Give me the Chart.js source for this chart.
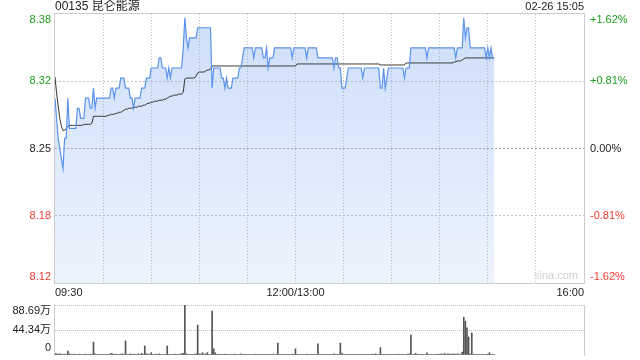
<!DOCTYPE html>
<html>
<head>
<meta charset="utf-8">
<script src="https://cdn.jsdelivr.net/npm/chart.js@4.4.1/dist/chart.umd.min.js"></script>
<style>
  html, body { margin: 0; padding: 0; background: #fff; }
  #wrap { position: relative; width: 640px; height: 360px; overflow: hidden; }
  canvas { position: absolute; left: 0; }
  #main { top: 0; }
  #vol { top: 300px; }
</style>
</head>
<body>
<div id="wrap">
  <canvas id="main" width="640" height="300"></canvas>
  <canvas id="vol" width="640" height="60"></canvas>
</div>
<script>
// 00135 intraday, one point per minute from 09:30 (lunch break folded out)
const TITLE = "00135 昆仑能源";
const STAMP = "02-26 15:05";
const PREV_CLOSE = 8.25;
const PCT_LEVELS = [-1.62, -0.81, 0, 0.81, 1.62];
const TIME_LABELS = ["09:30", "12:00/13:00", "16:00"];
const TIME_LABEL_MIN = [0, 150, 330];
const SESSION_MINUTES = 330;
const GRID_STEP = 30;

const price = [
  8.30, 8.28, 8.26, 8.25, 8.24, 8.23, 8.26, 8.26, 8.30, 8.27,
  8.27, 8.27, 8.27, 8.27, 8.29, 8.29, 8.28, 8.28, 8.28, 8.30,
  8.30, 8.30, 8.29, 8.29, 8.31, 8.29, 8.30, 8.30, 8.30, 8.30,
  8.30, 8.30, 8.30, 8.30, 8.30, 8.31, 8.31, 8.30, 8.31, 8.31,
  8.31, 8.32, 8.32, 8.32, 8.31, 8.31, 8.31, 8.30, 8.30, 8.29,
  8.30, 8.30, 8.30, 8.30, 8.31, 8.31, 8.31, 8.32, 8.32, 8.32,
  8.33, 8.33, 8.33, 8.33, 8.33, 8.34, 8.34, 8.33, 8.33, 8.33,
  8.32, 8.33, 8.32, 8.33, 8.33, 8.33, 8.33, 8.33, 8.33, 8.33,
  8.35, 8.38, 8.36, 8.35, 8.36, 8.36, 8.36, 8.36, 8.36, 8.37,
  8.37, 8.37, 8.37, 8.37, 8.37, 8.37, 8.37, 8.37, 8.31, 8.33,
  8.33, 8.33, 8.33, 8.33, 8.32, 8.32, 8.31, 8.32, 8.31, 8.31,
  8.31, 8.32, 8.32, 8.32, 8.32, 8.33, 8.33, 8.34, 8.35, 8.35,
  8.35, 8.35, 8.35, 8.35, 8.34, 8.35, 8.35, 8.35, 8.35, 8.35,
  8.34, 8.34, 8.35, 8.33, 8.34, 8.34, 8.34, 8.35, 8.35, 8.35,
  8.35, 8.35, 8.35, 8.35, 8.35, 8.35, 8.35, 8.35, 8.34, 8.35,
  8.35, 8.35, 8.35, 8.35, 8.35, 8.35, 8.35, 8.34, 8.35, 8.35,
  8.35, 8.35, 8.35, 8.35, 8.34, 8.34, 8.34, 8.34, 8.34, 8.34,
  8.34, 8.34, 8.34, 8.34, 8.33, 8.34, 8.34, 8.33, 8.33, 8.31,
  8.31, 8.31, 8.32, 8.33, 8.33, 8.33, 8.33, 8.33, 8.33, 8.33,
  8.33, 8.33, 8.32, 8.33, 8.33, 8.33, 8.33, 8.33, 8.33, 8.33,
  8.33, 8.33, 8.33, 8.31, 8.31, 8.33, 8.31, 8.32, 8.33, 8.33,
  8.33, 8.33, 8.33, 8.33, 8.33, 8.33, 8.33, 8.33, 8.32, 8.33,
  8.33, 8.33, 8.35, 8.35, 8.35, 8.35, 8.35, 8.35, 8.35, 8.35,
  8.35, 8.35, 8.34, 8.35, 8.35, 8.35, 8.35, 8.35, 8.35, 8.35,
  8.35, 8.35, 8.35, 8.35, 8.35, 8.35, 8.35, 8.35, 8.35, 8.35,
  8.34, 8.35, 8.35, 8.35, 8.35, 8.38, 8.36, 8.37, 8.37, 8.35,
  8.35, 8.35, 8.35, 8.35, 8.35, 8.35, 8.35, 8.35, 8.35, 8.34,
  8.35, 8.34, 8.35, 8.34, 8.34
];

// running average price (black line)
const avgPrice = [
  8.321, 8.305, 8.292, 8.280, 8.272, 8.268, 8.268, 8.270, 8.272, 8.273,
  8.273, 8.273, 8.273, 8.273, 8.273, 8.273, 8.273, 8.273, 8.274, 8.274,
  8.274, 8.274, 8.274, 8.275, 8.282, 8.282, 8.282, 8.282, 8.282, 8.282,
  8.282, 8.282, 8.282, 8.283, 8.283, 8.284, 8.284, 8.284, 8.285, 8.285,
  8.286, 8.286, 8.287, 8.288, 8.289, 8.289, 8.290, 8.290, 8.290, 8.291,
  8.291, 8.291, 8.292, 8.292, 8.292, 8.293, 8.293, 8.294, 8.295, 8.295,
  8.296, 8.296, 8.297, 8.297, 8.297, 8.298, 8.298, 8.298, 8.299, 8.299,
  8.300, 8.301, 8.302, 8.302, 8.303, 8.303, 8.303, 8.304, 8.304, 8.304,
  8.306, 8.319, 8.320, 8.320, 8.320, 8.320, 8.320, 8.320, 8.322, 8.325,
  8.326, 8.326, 8.326, 8.326, 8.327, 8.328, 8.328, 8.329, 8.332, 8.332,
  8.332, 8.332, 8.332, 8.332, 8.332, 8.332, 8.332, 8.332, 8.332, 8.332,
  8.332, 8.332, 8.332, 8.332, 8.332, 8.332, 8.332, 8.332, 8.332, 8.332,
  8.332, 8.332, 8.332, 8.332, 8.332, 8.332, 8.332, 8.332, 8.332, 8.332,
  8.332, 8.332, 8.332, 8.332, 8.332, 8.332, 8.332, 8.332, 8.332, 8.332,
  8.332, 8.332, 8.332, 8.332, 8.332, 8.332, 8.332, 8.332, 8.332, 8.332,
  8.332, 8.334, 8.334, 8.334, 8.334, 8.334, 8.334, 8.334, 8.334, 8.334,
  8.334, 8.334, 8.334, 8.334, 8.334, 8.334, 8.334, 8.334, 8.334, 8.334,
  8.334, 8.334, 8.334, 8.334, 8.334, 8.334, 8.334, 8.334, 8.334, 8.334,
  8.334, 8.334, 8.334, 8.334, 8.334, 8.334, 8.334, 8.334, 8.334, 8.334,
  8.334, 8.334, 8.334, 8.334, 8.334, 8.334, 8.334, 8.334, 8.334, 8.334,
  8.334, 8.334, 8.334, 8.333, 8.333, 8.333, 8.333, 8.333, 8.333, 8.333,
  8.333, 8.333, 8.333, 8.333, 8.333, 8.333, 8.333, 8.333, 8.333, 8.335,
  8.335, 8.335, 8.335, 8.335, 8.335, 8.335, 8.335, 8.335, 8.335, 8.335,
  8.335, 8.335, 8.335, 8.335, 8.335, 8.335, 8.335, 8.335, 8.335, 8.335,
  8.335, 8.335, 8.335, 8.335, 8.335, 8.335, 8.335, 8.335, 8.335, 8.336,
  8.336, 8.337, 8.337, 8.337, 8.338, 8.339, 8.340, 8.340, 8.340, 8.340,
  8.340, 8.340, 8.340, 8.340, 8.340, 8.340, 8.340, 8.340, 8.340, 8.340,
  8.340, 8.340, 8.340, 8.340, 8.340
];

// volume per minute, in 万 shares
const volume = [
  3, 2, 1.5, 2, 1.5, 1, 1.5, 1, 7, 2,
  1, 1, 1.5, 1, 1, 1.5, 1, 1, 1, 1.5,
  1, 1, 1.5, 1, 23, 2, 1, 1, 1, 1,
  1, 1, 1, 1, 1, 3, 2, 1, 1.5, 1,
  1, 1.5, 2, 1, 25, 1, 1, 2, 1, 1.5,
  1, 1, 2, 1, 3, 1, 16, 2, 1.5, 1,
  4, 1, 1, 1.5, 1, 2, 1, 1, 1, 1,
  16, 1, 1, 1, 1, 1.5, 1, 1, 1.5, 2,
  3, 88.69, 2, 1, 1, 1, 1, 1.5, 2, 53,
  2, 1.5, 4, 1, 2, 4, 1, 1, 78, 11,
  4, 1, 1.5, 1, 1, 1, 1.5, 1, 1, 1,
  1, 1, 1.5, 1, 1, 1, 2, 1, 1, 1,
  1, 1, 1, 1, 1, 1.5, 1, 1, 1, 1,
  1, 1, 1, 1, 1, 1, 1.5, 1, 1, 21,
  1, 1, 1, 1, 1, 1, 1, 1, 1.5, 1,
  11, 1, 1, 1, 1, 1, 1, 1.5, 1, 1,
  1, 1, 1, 1, 20, 1, 1, 1, 1, 1,
  1, 1, 1, 1, 2, 1, 1, 1, 21, 3,
  1, 1, 1, 1, 1, 1, 1, 1, 1, 1,
  1, 1, 1, 1, 1, 1, 1, 1, 1.5, 1,
  2, 1, 1, 13, 1, 1, 1, 1, 1, 1,
  1, 1, 1, 1, 1.5, 1, 1, 1, 1, 1,
  1.5, 2, 35.5, 1, 1, 3, 1, 1, 1, 1,
  1, 1, 4, 1, 1, 1, 1, 1, 1, 1.5,
  1, 2, 1, 3, 1, 2, 2, 1, 2, 1.5,
  1.5, 2, 1.5, 1, 5, 67, 60, 48, 32, 1.5,
  39, 1, 1, 1, 1, 1, 1, 1, 1, 1,
  1.5, 4, 1, 1, 1
];
const VOL_MAX = 88.69;
const VOL_LABELS = ["0", "44.34万", "88.69万"];

const COLORS = {
  line: "#5b93ec",
  avg: "#333333",
  fillTop: "rgba(110, 160, 238, 0.34)",
  fillBottom: "rgba(110, 160, 238, 0.12)",
  frame: "#cccccc",
  grid: "#c4c4c4",
  vgrid: "#bdbdbd",
  zero: "#a8a8a8",
  up: "#1c9e1c",
  down: "#f03a32",
  text: "#222222",
  mark: "#cfcfcf",
  vol: "#555555",
};
const FONT = "11px 'Liberation Sans', 'Noto Sans CJK SC', sans-serif";
const TITLE_FONT = "12px 'Liberation Sans', 'Noto Sans CJK SC', sans-serif";

const lo = PREV_CLOSE * (1 + PCT_LEVELS[0] / 100);
const hi = PREV_CLOSE * (1 + PCT_LEVELS[PCT_LEVELS.length - 1] / 100);

function areaGradient(context) {
  const { ctx, chartArea } = context.chart;
  if (!chartArea) return COLORS.fillTop;
  const g = ctx.createLinearGradient(0, chartArea.top, 0, chartArea.bottom);
  g.addColorStop(0, COLORS.fillTop);
  g.addColorStop(1, COLORS.fillBottom);
  return g;
}

// half-hour grid positions
function halfHourTicks(scale) {
  const ticks = [];
  for (let m = 0; m <= SESSION_MINUTES; m += GRID_STEP) ticks.push({ value: m });
  scale.ticks = ticks;
}

// frame + axis texts for the price panel
const priceDecor = {
  id: "priceDecor",
  afterDraw(chart) {
    const { ctx, chartArea: a, scales } = chart;
    ctx.save();
    ctx.strokeStyle = COLORS.frame;
    ctx.lineWidth = 1;
    ctx.strokeRect(a.left - 0.5, a.top - 0.5, a.right - a.left + 1, a.bottom - a.top + 1);

    ctx.font = FONT;
    ctx.textBaseline = "middle";
    PCT_LEVELS.forEach((p, i) => {
      const v = PREV_CLOSE * (1 + p / 100);
      let py = scales.y.getPixelForValue(v);
      if (i === 0) py -= 6;
      if (i === PCT_LEVELS.length - 1) py += 6;
      ctx.fillStyle = p > 0 ? COLORS.up : p < 0 ? COLORS.down : COLORS.text;
      ctx.textAlign = "right";
      ctx.fillText(v.toFixed(2), a.left - 4, py);
      ctx.textAlign = "left";
      ctx.fillText((p > 0 ? "+" : "") + p.toFixed(2) + "%", a.right + 6, py);
    });

    ctx.fillStyle = COLORS.text;
    TIME_LABELS.forEach((t, i) => {
      const m = TIME_LABEL_MIN[i];
      ctx.textAlign = m === 0 ? "left" : m === SESSION_MINUTES ? "right" : "center";
      ctx.fillText(t, scales.x.getPixelForValue(m), a.bottom + 10);
    });

    ctx.font = TITLE_FONT;
    ctx.textAlign = "left";
    ctx.fillText(TITLE, a.left, 7);
    ctx.font = FONT;
    ctx.textAlign = "right";
    ctx.fillText(STAMP, a.right, 7);

    ctx.fillStyle = COLORS.mark;
    ctx.fillText("sina.com", a.right - 6, a.bottom - 7);
    ctx.restore();
  },
};

const volDecor = {
  id: "volDecor",
  afterDraw(chart) {
    const { ctx, chartArea: a, scales } = chart;
    ctx.save();
    ctx.strokeStyle = COLORS.frame;
    ctx.lineWidth = 1;
    ctx.beginPath();
    ctx.moveTo(a.left - 0.5, a.top);
    ctx.lineTo(a.left - 0.5, a.bottom + 1);
    ctx.moveTo(a.right + 0.5, a.top);
    ctx.lineTo(a.right + 0.5, a.bottom + 1);
    ctx.stroke();

    ctx.font = FONT;
    ctx.textBaseline = "middle";
    ctx.textAlign = "right";
    ctx.fillStyle = COLORS.text;
    const vals = [0, VOL_MAX / 2, VOL_MAX];
    vals.forEach((v, i) => {
      let py = scales.y.getPixelForValue(v);
      if (i === 0) py -= 7;
      if (i === vals.length - 1) py += 6;
      ctx.fillText(VOL_LABELS[i], a.left - 4, py);
    });
    ctx.restore();
  },
};

new Chart(document.getElementById("main"), {
  type: "line",
  data: {
    datasets: [
      {
        data: price.map((v, i) => ({ x: i, y: v })),
        borderColor: COLORS.line,
        borderWidth: 1.2,
        backgroundColor: areaGradient,
        fill: "start",
        pointRadius: 0,
        tension: 0,
        order: 0,
      },
      {
        data: avgPrice.map((v, i) => ({ x: i, y: v })),
        borderColor: COLORS.avg,
        borderWidth: 1,
        fill: false,
        pointRadius: 0,
        tension: 0,
        order: 1,
      },
    ],
  },
  options: {
    responsive: false,
    animation: false,
    events: [],
    layout: { padding: { top: 14, right: 56, left: 0, bottom: 0 } },
    plugins: {
      legend: { display: false },
      tooltip: { enabled: false },
      filler: { drawTime: "beforeDatasetsDraw" },
    },
    scales: {
      x: {
        type: "linear",
        min: 0,
        max: SESSION_MINUTES,
        afterBuildTicks: halfHourTicks,
        ticks: { display: false },
        grid: {
          drawTicks: false,
          lineWidth: 1,
          color: (c) => {
            const v = c.tick ? c.tick.value : -1;
            return v === 0 || v === SESSION_MINUTES ? "transparent" : COLORS.vgrid;
          },
        },
        border: { display: false, dash: [1, 2] },
        afterFit: (s) => { s.height = 17; },
      },
      y: {
        min: lo,
        max: hi,
        afterBuildTicks: (s) => {
          s.ticks = PCT_LEVELS.map((p) => ({ value: PREV_CLOSE * (1 + p / 100) }));
        },
        ticks: { display: false },
        grid: {
          drawTicks: false,
          color: (c) => {
            const i = c.index;
            if (i === 0 || i === PCT_LEVELS.length - 1) return "transparent";
            return PCT_LEVELS[i] === 0 ? COLORS.zero : COLORS.grid;
          },
        },
        border: { display: false, dash: [2, 2] },
        afterFit: (s) => { s.width = 55; },
      },
    },
  },
  plugins: [priceDecor],
});

new Chart(document.getElementById("vol"), {
  type: "bar",
  data: {
    datasets: [
      {
        data: volume.map((v, i) => ({ x: i, y: v })),
        backgroundColor: COLORS.vol,
        barThickness: 1,
        borderWidth: 0,
      },
    ],
  },
  options: {
    responsive: false,
    animation: false,
    events: [],
    layout: { padding: { top: 5, right: 56, left: 0, bottom: 5 } },
    plugins: { legend: { display: false }, tooltip: { enabled: false } },
    scales: {
      x: {
        type: "linear",
        min: 0,
        max: SESSION_MINUTES,
        offset: false,
        display: false,
        grid: { offset: false },
      },
      y: {
        min: 0,
        max: VOL_MAX,
        afterBuildTicks: (s) => {
          s.ticks = [0, VOL_MAX / 2, VOL_MAX].map((v) => ({ value: v }));
        },
        ticks: { display: false },
        grid: {
          drawTicks: false,
          color: (c) => (c.index === 0 ? "transparent" : "#bdbdbd"),
        },
        border: { display: false, dash: [1, 1] },
        afterFit: (s) => { s.width = 55; },
      },
    },
  },
  plugins: [volDecor],
});
</script>
</body>
</html>
